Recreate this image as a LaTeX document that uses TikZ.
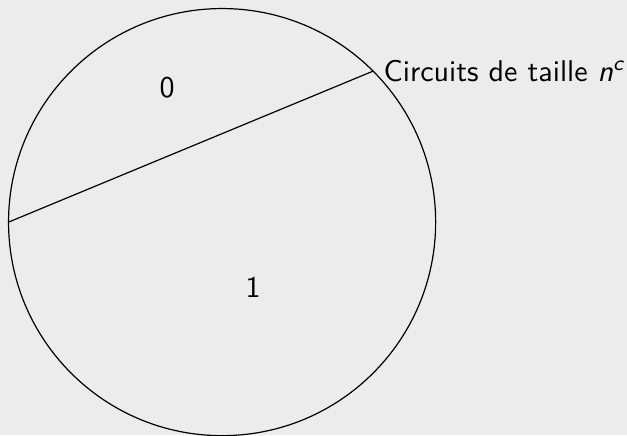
\documentclass[tikz,border=0pt]{standalone}
\usepackage{tikz}
\definecolor{bggray}{RGB}{236,236,236}
\renewcommand{\familydefault}{\sfdefault}
\tikzset{
  region/.style={font=\sffamily},
}
\begin{document}
\begin{tikzpicture}
    % Background
    \fill[bggray] (-2.6,-2.494) rectangle (4.74,2.6);
    \useasboundingbox (-2.6,-2.494) rectangle (4.74,2.6);

    % Draw circle
    \coordinate (O) at (0,0);
    \draw (O) circle (2.5);

    % Chord
    \coordinate (A) at (180:2.5);
    \coordinate (B) at (45:2.5);
    \draw (A) -- (B);

    % Labels
    \node[region] (zero) at (-0.644,1.569) {0};
    \node[region] (one) at (0.363,-0.761) {1};
    \node[region,right] (circ) at (B) {Circuits de taille {\itshape n}\textsuperscript{\itshape c}};

\end{tikzpicture}
\end{document}
